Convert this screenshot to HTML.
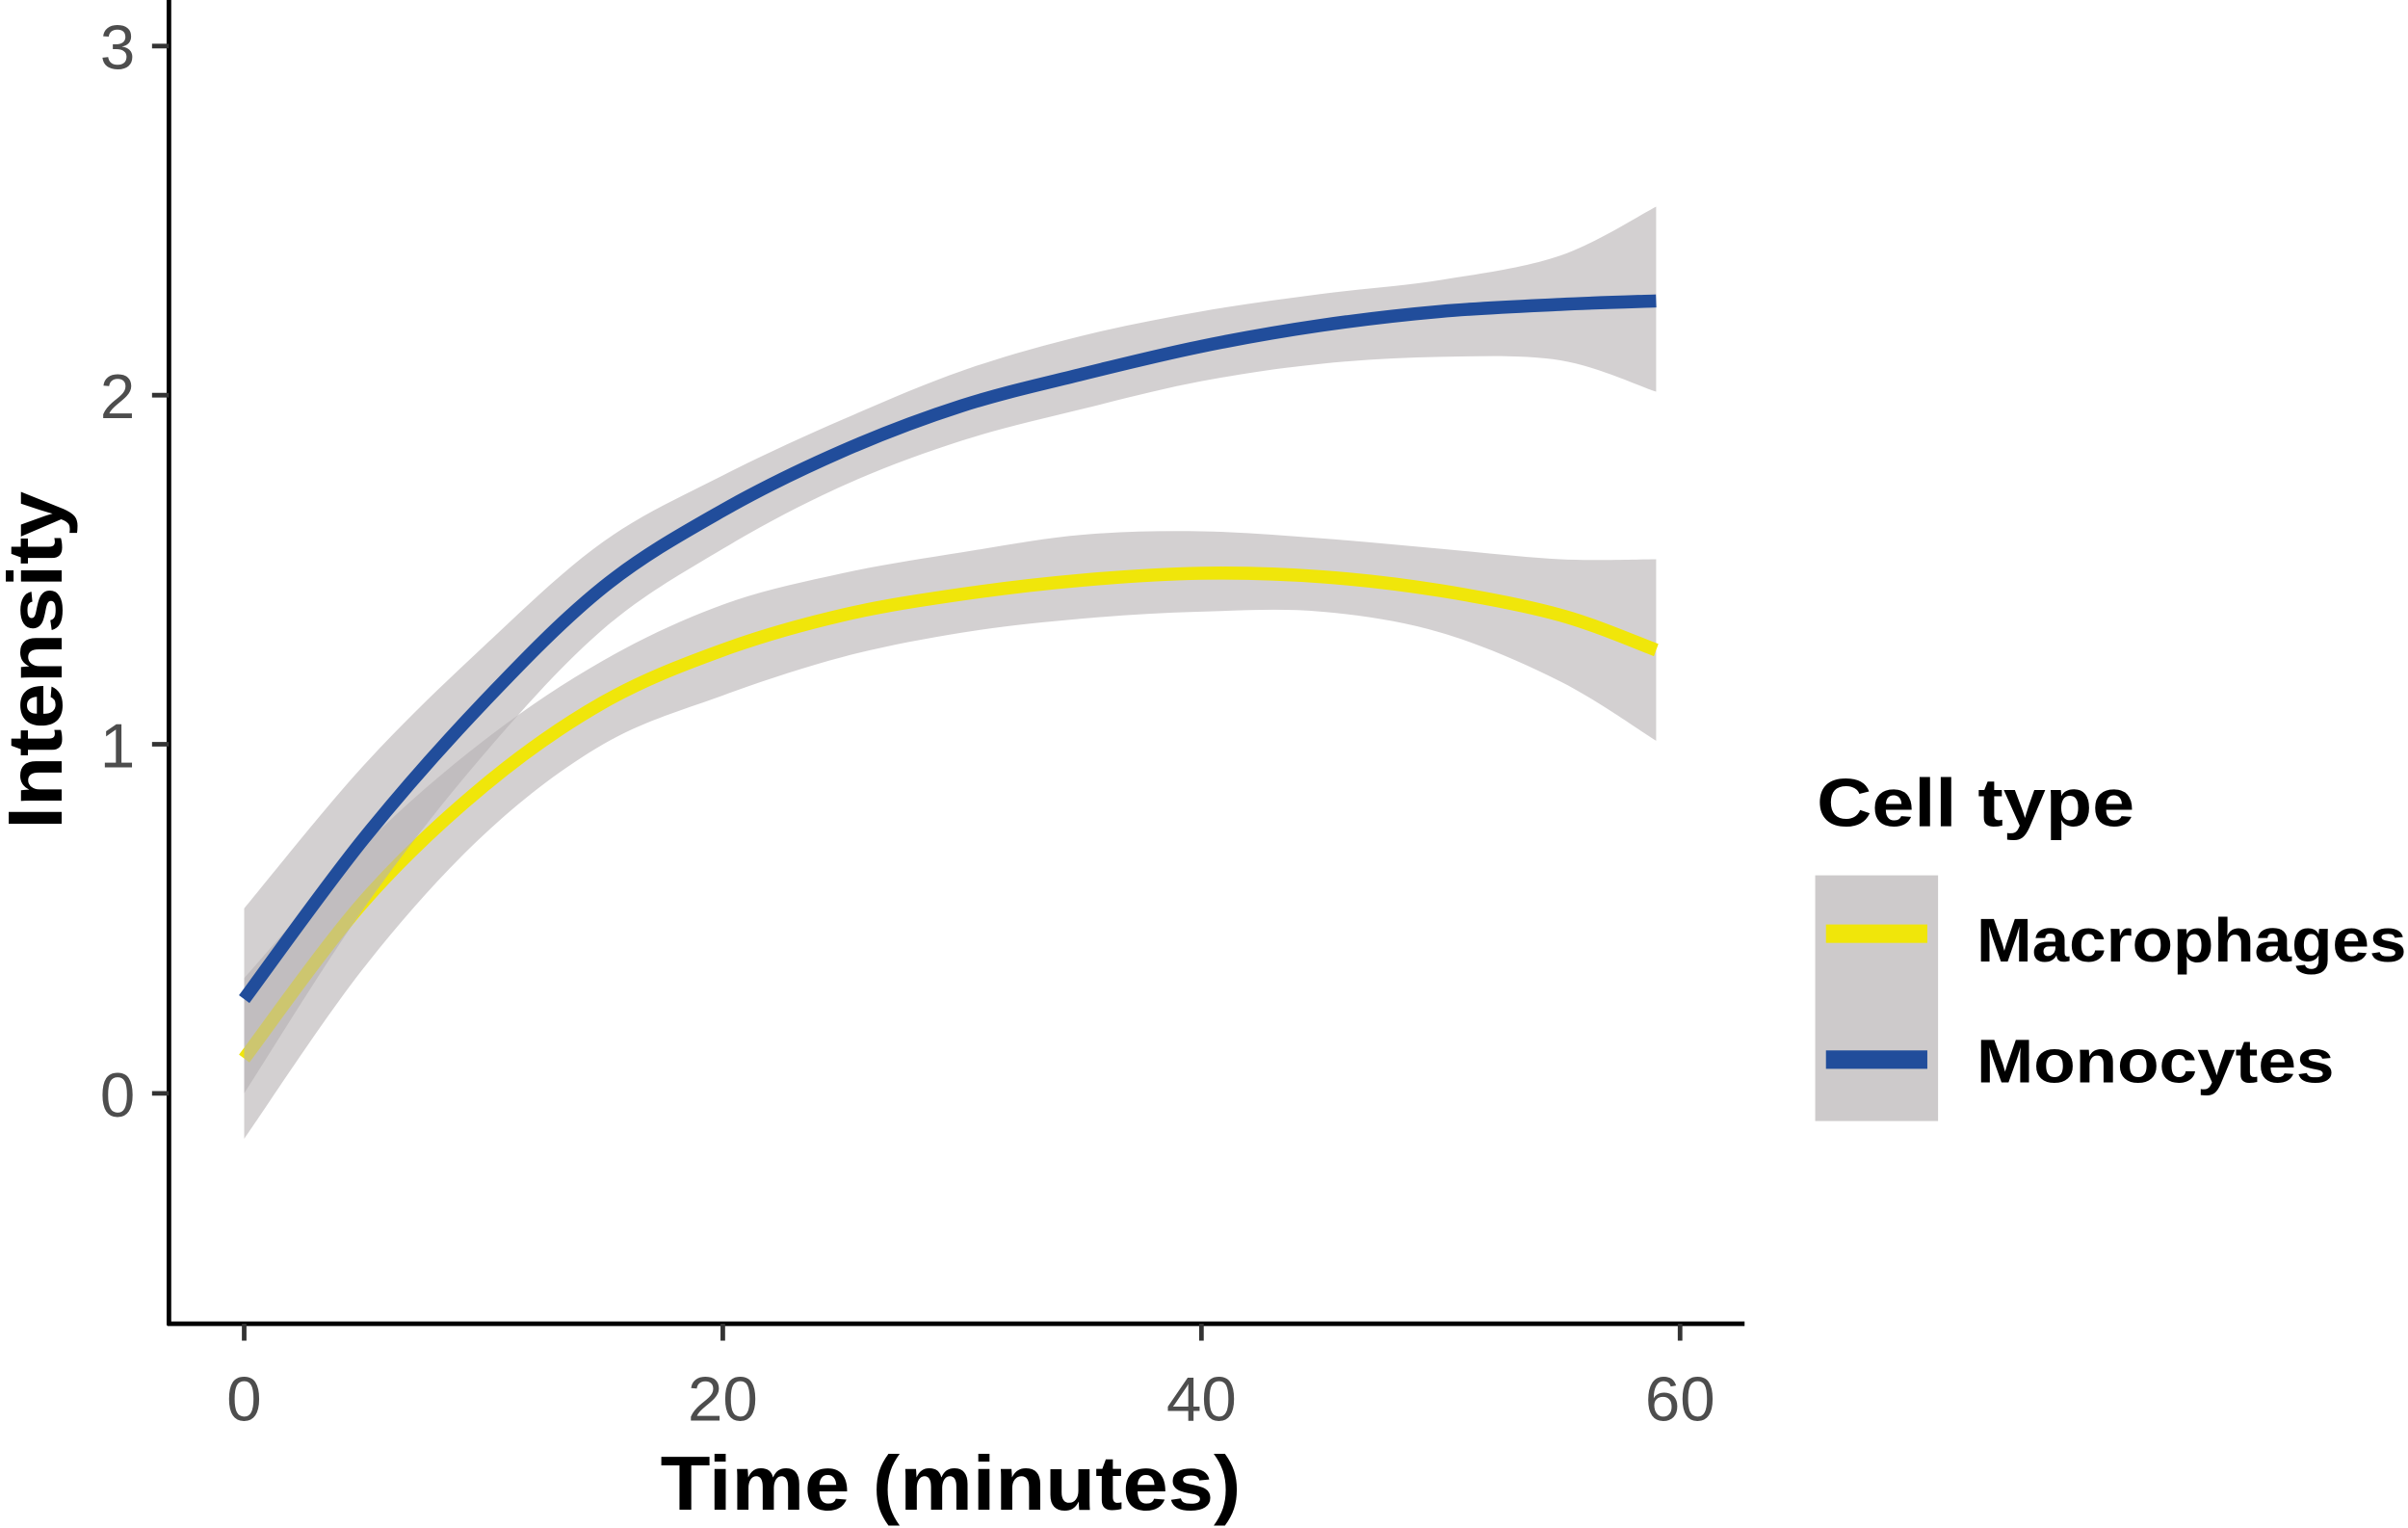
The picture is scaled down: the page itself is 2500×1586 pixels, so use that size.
<!DOCTYPE html>
<html><head><meta charset="utf-8"><style>
html,body{margin:0;padding:0;background:#fff}
svg{display:block}
text{font-family:"Liberation Sans",sans-serif}
</style></head><body>
<svg id="chart" width="2500" height="1586" viewBox="0 0 1568 995" preserveAspectRatio="none">
<g id="plot"></g>
<line x1="110" y1="0" x2="110" y2="863" stroke="#000" stroke-width="3"/>
<line x1="109" y1="862" x2="1136" y2="862" stroke="#000" stroke-width="3"/>
<g id="axes"></g>
<text x="430" y="983" font-size="50" font-weight="bold" textLength="378" lengthAdjust="spacingAndGlyphs">Time (minutes)</text>
<text transform="translate(40,540) rotate(-90)" font-size="50" font-weight="bold" textLength="220" lengthAdjust="spacingAndGlyphs">Intensity</text>
<g>
<text x="1183" y="538" font-size="44" font-weight="bold" textLength="207" lengthAdjust="spacingAndGlyphs">Cell type</text>
<rect x="1182" y="570" width="80" height="160" fill="#cdcacb"/>
<rect x="1189" y="602" width="66" height="12" fill="#f0e60a"/>
<rect x="1189" y="684" width="66" height="12" fill="#214d9b"/>
<text x="1287" y="626" font-size="40" font-weight="bold" textLength="280" lengthAdjust="spacingAndGlyphs">Macrophages</text>
<text x="1287" y="705" font-size="40" font-weight="bold" textLength="233" lengthAdjust="spacingAndGlyphs">Monocytes</text>
</g>
</svg>
<script>
const times=[0,5,10,15,20,25,30,35,40,45,50,55,59];
const monoMean=[0.27,0.73,1.12,1.45,1.67,1.84,1.97,2.06,2.14,2.2,2.24,2.26,2.27];
const monoUpper=[0.53,0.94,1.28,1.58,1.77,1.93,2.07,2.17,2.24,2.29,2.33,2.4,2.54];
const monoLower=[0.0,0.53,0.97,1.33,1.56,1.74,1.87,1.96,2.04,2.09,2.11,2.1,2.01];
const macMean=[0.1,0.55,0.88,1.12,1.27,1.37,1.43,1.47,1.49,1.48,1.44,1.37,1.27];
const macUpper=[0.33,0.71,1.01,1.24,1.40,1.49,1.55,1.6,1.61,1.59,1.56,1.53,1.53];
const macLower=[-0.13,0.36,0.74,1.0,1.14,1.25,1.32,1.36,1.38,1.38,1.32,1.18,1.01];
const xTicks=[0,20,40,60];
const yTicks=[0,1,2,3];
const NS='http://www.w3.org/2000/svg';
const xs=t=>159+t*(1094-159)/60;
const ys=v=>712-v*(712-30)/3;
function pts(a){return times.map((t,i)=>[xs(t),ys(a[i])]);}
function curve(p,move){let d=(move?'M':'L')+p[0][0]+','+p[0][1];
for(let i=0;i<p.length-1;i++){const p0=p[i-1]||p[i],p1=p[i],p2=p[i+1],p3=p[i+2]||p2;
d+=' C'+(p1[0]+(p2[0]-p0[0])/6)+','+(p1[1]+(p2[1]-p0[1])/6)+' '+(p2[0]-(p3[0]-p1[0])/6)+','+(p2[1]-(p3[1]-p1[1])/6)+' '+p2[0]+','+p2[1];}
return d;}
const plot=document.getElementById('plot');
function band(up,lo,name){const el=document.createElementNS(NS,'path');
el.setAttribute('d',curve(pts(up),true)+' '+curve(pts(lo).reverse(),false)+' Z');
el.setAttribute('fill','#b5b0b3');el.setAttribute('fill-opacity','0.6');


plot.appendChild(el);}
function line(m,col,name){const el=document.createElementNS(NS,'path');
el.setAttribute('d',curve(pts(m),true));el.setAttribute('fill','none');el.setAttribute('stroke',col);el.setAttribute('stroke-width','8.5');


plot.appendChild(el);}
band(macUpper,macLower,'macrophages-ci-band');
line(macMean,'#f0e60a','macrophages-line');
band(monoUpper,monoLower,'monocytes-ci-band');
line(monoMean,'#214d9b','monocytes-line');
const axes=document.getElementById('axes');
xTicks.forEach(v=>{const l=document.createElementNS(NS,'line');
l.setAttribute('x1',xs(v));l.setAttribute('x2',xs(v));l.setAttribute('y1',862);l.setAttribute('y2',873);l.setAttribute('stroke','#333');l.setAttribute('stroke-width','3');


axes.appendChild(l);
const t=document.createElementNS(NS,'text');t.setAttribute('x',xs(v));t.setAttribute('y',925);t.setAttribute('font-size','41');t.setAttribute('fill','#4d4d4d');t.setAttribute('text-anchor','middle');t.textContent=v;


axes.appendChild(t);});
yTicks.forEach(v=>{const l=document.createElementNS(NS,'line');
l.setAttribute('x1',99);l.setAttribute('x2',110);l.setAttribute('y1',ys(v));l.setAttribute('y2',ys(v));l.setAttribute('stroke','#333');l.setAttribute('stroke-width','3');


axes.appendChild(l);
const t=document.createElementNS(NS,'text');t.setAttribute('x',88);t.setAttribute('y',ys(v)+15);t.setAttribute('font-size','41');t.setAttribute('fill','#4d4d4d');t.setAttribute('text-anchor','end');t.textContent=v;


axes.appendChild(t);});
</script>
</body></html>
